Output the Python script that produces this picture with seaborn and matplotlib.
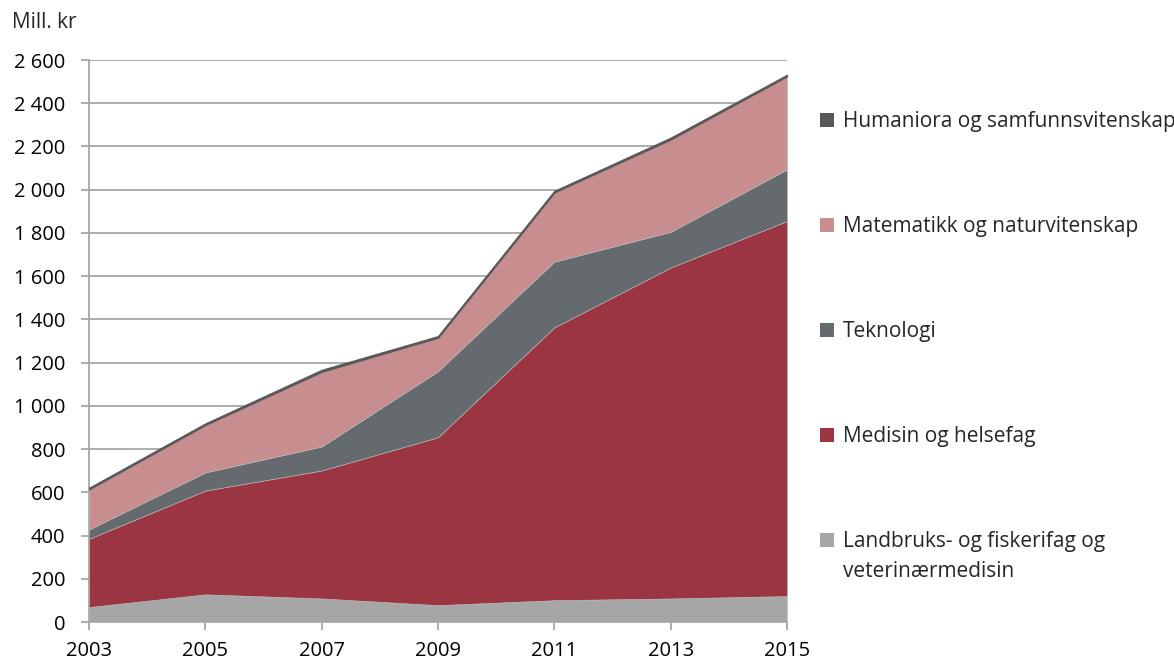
import matplotlib
matplotlib.use("Agg")
import matplotlib.pyplot as plt
from matplotlib.patches import Patch
import seaborn as sns
import pandas as pd

years = [2003, 2005, 2007, 2009, 2011, 2013, 2015]
landbruk = [69, 128, 109, 78, 101, 109, 120]
medisin = [316, 480, 592, 777, 1262, 1531, 1735]
teknologi = [43, 84, 111, 305, 304, 165, 239]
matematikk = [186, 220, 346, 156, 321, 428, 431]
humaniora = [6, 6, 8, 6, 6, 7, 6]

series_names = [
    "Landbruks- og fiskerifag og veterinærmedisin",
    "Medisin og helsefag",
    "Teknologi",
    "Matematikk og naturvitenskap",
    "Humaniora og samfunnsvitenskap",
]
legend_labels = [
    ["Landbruks- og fiskerifag og", "veterinærmedisin"],
    ["Medisin og helsefag"],
    ["Teknologi"],
    ["Matematikk og naturvitenskap"],
    ["Humaniora og samfunnsvitenskap"],
]
colors = ["#A6A6A6", "#9B3541", "#656A6E", "#C78D8F", "#595959"]

yticks = [0, 200, 400, 600, 800, 1000, 1200, 1400, 1600, 1800, 2000, 2200, 2400, 2600]
ytick_labels = ["0", "200", "400", "600", "800", "1 000", "1 200", "1 400", "1 600",
                "1 800", "2 000", "2 200", "2 400", "2 600"]
xticks = [2003, 2005, 2007, 2009, 2011, 2013, 2015]

df = pd.DataFrame({"year": years})
for name, vals in zip(series_names, [landbruk, medisin, teknologi, matematikk, humaniora]):
    df[name] = vals

sns.set_theme(style="white")
plt.rcParams["font.family"] = ["Open Sans", "DejaVu Sans"]

fig = plt.figure(figsize=(11.74, 6.61), dpi=100)
ax = fig.add_axes([89 / 1174, 1 - 622 / 661, (787 - 89) / 1174, (622 - 60) / 661])

polys = ax.stackplot(df["year"], *[df[n] for n in series_names], colors=colors,
                     linewidth=0.4, edgecolor="#bbbbbb", zorder=3)
polys[-1].set_edgecolor("#595959")
polys[-1].set_linewidth(1.1)

ax.set_xlim(2003, 2015)
ax.set_ylim(0, 2600)
ax.set_yticks(yticks)
ax.set_yticklabels(ytick_labels)
ax.set_xticks(xticks)
ax.set_xticklabels([str(x) for x in xticks])
ax.yaxis.grid(True, color="#A0A0A0", linewidth=1.2, zorder=0)
ax.xaxis.grid(False)
ax.set_axisbelow(True)

for s in ["top", "right"]:
    ax.spines[s].set_visible(False)
for s in ["left", "bottom"]:
    ax.spines[s].set_color("#A0A0A0")
    ax.spines[s].set_linewidth(1.2)

ax.tick_params(axis="both", which="both", length=6, width=1.2, color="#A0A0A0",
               labelsize=14.5, labelcolor="black", direction="out")
ax.tick_params(axis="y", pad=11, left=True)
ax.tick_params(axis="x", pad=8, bottom=True)
ax.set_xlabel("")
ax.set_ylabel("")

fig.text(12 / 1174, 1 - 22 / 661, "Mill. kr", fontsize=15, ha="left", va="center")

handles = [Patch(facecolor=c, edgecolor="none") for c in colors]
first_lines = [lab[0] for lab in legend_labels]
leg = fig.legend(handles[::-1], first_lines[::-1], loc="upper left",
                 bbox_to_anchor=(812 / 1174, 1 - 103 / 661), frameon=False,
                 fontsize=15, handlelength=0.65, handleheight=0.65,
                 handletextpad=0.45, labelspacing=4.03, borderaxespad=0)

# second line of the multi-line legend entry, placed right under its first line
fig.canvas.draw()
last_text = leg.get_texts()[-1]
bb = last_text.get_window_extent().transformed(fig.transFigure.inverted())
fig.text(bb.x0, bb.y0 - 0.0134, legend_labels[0][1], fontsize=15, ha="left", va="top")

fig.savefig("out.png", dpi=100)
